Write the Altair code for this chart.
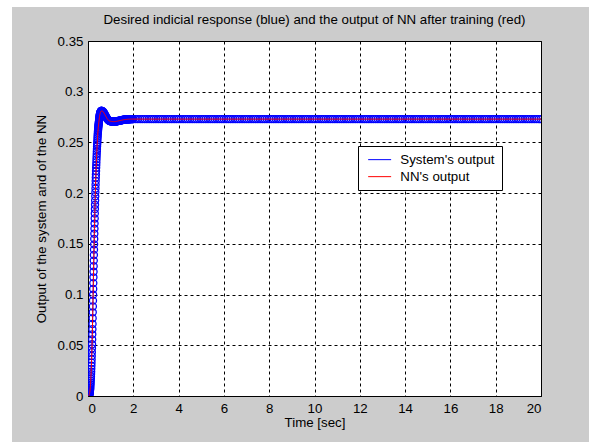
import altair as alt
import numpy as np
import pandas as pd

# ---- data ----
# rise, sampled every 0.005 s from 0 to 0.6 s
rise_values = [
    0.0000, 0.0000, 0.0001, 0.0001, 0.0002, 0.0003, 0.0004, 0.0005, 0.0007, 0.0009,
    0.0011, 0.0014, 0.0018, 0.0022, 0.0027, 0.0033, 0.0040, 0.0049, 0.0058, 0.0068,
    0.0080, 0.0096, 0.0113, 0.0131, 0.0150, 0.0171, 0.0193, 0.0216, 0.0240, 0.0268,
    0.0298, 0.0328, 0.0360, 0.0395, 0.0432, 0.0470, 0.0510, 0.0558, 0.0608, 0.0658,
    0.0710, 0.0767, 0.0825, 0.0883, 0.0940, 0.0998, 0.1055, 0.1113, 0.1170, 0.1225,
    0.1280, 0.1335, 0.1390, 0.1443, 0.1495, 0.1548, 0.1600, 0.1650, 0.1700, 0.1750,
    0.1800, 0.1843, 0.1885, 0.1928, 0.1970, 0.2008, 0.2045, 0.2083, 0.2120, 0.2153,
    0.2185, 0.2218, 0.2250, 0.2278, 0.2305, 0.2333, 0.2360, 0.2385, 0.2410, 0.2435,
    0.2460, 0.2480, 0.2500, 0.2520, 0.2540, 0.2558, 0.2575, 0.2593, 0.2610, 0.2623,
    0.2635, 0.2648, 0.2660, 0.2670, 0.2680, 0.2690, 0.2700, 0.2710, 0.2720, 0.2730,
    0.2740, 0.2748, 0.2755, 0.2763, 0.2770, 0.2775, 0.2780, 0.2785, 0.2790, 0.2793,
    0.2795, 0.2798, 0.2800, 0.2803, 0.2805, 0.2808, 0.2810, 0.2810, 0.2810, 0.2810,
    0.2810,
]
# overshoot and settling, sampled every 0.02 s from 0.62 to 2.0 s
settle_values = [
    0.2810, 0.2808, 0.2805, 0.2800, 0.2792, 0.2785, 0.2776, 0.2768, 0.2760, 0.2752,
    0.2744, 0.2736, 0.2730, 0.2724, 0.2720, 0.2716, 0.2713, 0.2711, 0.2710, 0.2709,
    0.2708, 0.2707, 0.2706, 0.2706, 0.2705, 0.2705, 0.2705, 0.2705, 0.2705, 0.2706,
    0.2706, 0.2707, 0.2708, 0.2709, 0.2710, 0.2711, 0.2712, 0.2713, 0.2714, 0.2715,
    0.2716, 0.2717, 0.2718, 0.2719, 0.2720, 0.2721, 0.2722, 0.2723, 0.2724, 0.2725,
    0.2725, 0.2726, 0.2726, 0.2727, 0.2727, 0.2728, 0.2728, 0.2728, 0.2729, 0.2729,
    0.2729, 0.2729, 0.2730, 0.2730, 0.2730, 0.2730, 0.2730, 0.2730, 0.2730, 0.2730,
]
# steady state, sampled every 0.1 s from 2.1 to 20 s
steady_values = [
    0.273, 0.273, 0.273, 0.273, 0.273, 0.273, 0.273, 0.273, 0.273, 0.273,
    0.273, 0.273, 0.273, 0.273, 0.273, 0.273, 0.273, 0.273, 0.273, 0.273,
    0.273, 0.273, 0.273, 0.273, 0.273, 0.273, 0.273, 0.273, 0.273, 0.273,
    0.273, 0.273, 0.273, 0.273, 0.273, 0.273, 0.273, 0.273, 0.273, 0.273,
    0.273, 0.273, 0.273, 0.273, 0.273, 0.273, 0.273, 0.273, 0.273, 0.273,
    0.273, 0.273, 0.273, 0.273, 0.273, 0.273, 0.273, 0.273, 0.273, 0.273,
    0.273, 0.273, 0.273, 0.273, 0.273, 0.273, 0.273, 0.273, 0.273, 0.273,
    0.273, 0.273, 0.273, 0.273, 0.273, 0.273, 0.273, 0.273, 0.273, 0.273,
    0.273, 0.273, 0.273, 0.273, 0.273, 0.273, 0.273, 0.273, 0.273, 0.273,
    0.273, 0.273, 0.273, 0.273, 0.273, 0.273, 0.273, 0.273, 0.273, 0.273,
    0.273, 0.273, 0.273, 0.273, 0.273, 0.273, 0.273, 0.273, 0.273, 0.273,
    0.273, 0.273, 0.273, 0.273, 0.273, 0.273, 0.273, 0.273, 0.273, 0.273,
    0.273, 0.273, 0.273, 0.273, 0.273, 0.273, 0.273, 0.273, 0.273, 0.273,
    0.273, 0.273, 0.273, 0.273, 0.273, 0.273, 0.273, 0.273, 0.273, 0.273,
    0.273, 0.273, 0.273, 0.273, 0.273, 0.273, 0.273, 0.273, 0.273, 0.273,
    0.273, 0.273, 0.273, 0.273, 0.273, 0.273, 0.273, 0.273, 0.273, 0.273,
    0.273, 0.273, 0.273, 0.273, 0.273, 0.273, 0.273, 0.273, 0.273, 0.273,
    0.273, 0.273, 0.273, 0.273, 0.273, 0.273, 0.273, 0.273, 0.273, 0.273,
]

series_names = ["System's output", "NN's output"]
series_colors = ["#0000ff", "#ff0000"]
x_ticks = [0, 2, 4, 6, 8, 10, 12, 14, 16, 18, 20]
y_ticks = [0, 0.05, 0.1, 0.15, 0.2, 0.25, 0.3, 0.35]

title_text = "Desired indicial response (blue) and the output of NN after training (red)"
x_title = "Time [sec]"
y_title = "Output of the system and of the NN"

# sampling grid
t_rise = np.round(0.005 * np.arange(len(rise_values)), 3)
t_settle = np.round(0.62 + 0.02 * np.arange(len(settle_values)), 3)
t_steady = np.round(2.1 + 0.1 * np.arange(len(steady_values)), 3)
times = np.concatenate([t_rise, t_settle, t_steady])
system_out = rise_values + settle_values + steady_values
nn_out = system_out  # NN reproduces the system output after training

df = pd.concat([
    pd.DataFrame({"time": times, "value": system_out, "series": series_names[0]}),
    pd.DataFrame({"time": times, "value": nn_out, "series": series_names[1]}),
])

FONT = "Liberation Sans"
FS = 13.3
W, H = 453, 355

color = alt.Color(
    "series:N",
    scale=alt.Scale(domain=series_names, range=series_colors),
    sort=series_names,
    legend=alt.Legend(
        title=None, orient="none", legendX=270, legendY=105,
        symbolType="M-2,0H2", symbolSize=132, symbolStrokeWidth=1,
        symbolOffset=8,
        labelFont=FONT, labelFontSize=FS, labelColor="black", labelOffset=14,
        rowPadding=3, padding=7, fillColor="white", strokeColor="black",
    ),
)

xenc = alt.X("time:Q", scale=alt.Scale(domain=[0, 20], nice=False),
             axis=alt.Axis(values=x_ticks, format="d", title=x_title, titlePadding=1))
yenc = alt.Y("value:Q", scale=alt.Scale(domain=[0, 0.35], nice=False),
             axis=alt.Axis(values=y_ticks, format=".2~f", title=y_title, titlePadding=9))

points = alt.Chart(df).transform_filter(
    alt.datum.series == series_names[0]
).mark_point(shape="circle", filled=False, size=50, strokeWidth=1.3,
             opacity=1, clip=True, color=series_colors[0]).encode(
    x=xenc, y=yenc
)

lines = alt.Chart(df).mark_line(strokeWidth=1, clip=True).encode(
    x="time:Q", y="value:Q", color=color,
    order=alt.Order("time:Q"),
)

strip_left = alt.Chart(df).mark_rect(color="white").encode(
    x=alt.value(-88), x2=alt.value(-76), y=alt.value(-41), y2=alt.value(H + 46)
).transform_filter("datum.time == 0 && datum.series == \"System's output\"")
strip_top = alt.Chart(df).mark_rect(color="white").encode(
    x=alt.value(-88), x2=alt.value(W + 48), y=alt.value(-41), y2=alt.value(-34)
).transform_filter("datum.time == 0 && datum.series == \"System's output\"")

chart = alt.layer(strip_left, strip_top, points, lines).properties(
    width=W, height=H,
    title=alt.Title(title_text, font=FONT, fontSize=FS, fontWeight="normal",
                    color="black", offset=-26, anchor="middle"),
    autosize=alt.AutoSizeParams(type="none"),
    padding={"left": 88, "top": 41, "right": 48, "bottom": 46},
    background="#cccccc",
).configure_view(
    fill="white", stroke="black", strokeWidth=1
).configure_axis(
    grid=True, gridDash=[3, 3], gridColor="black", gridOpacity=1, gridWidth=1,
    domain=False, ticks=False,
    labelFont=FONT, labelFontSize=FS, labelColor="black", labelPadding=5,
    titleFont=FONT, titleFontSize=FS, titleFontWeight="normal", titleColor="black",
)

chart.save("out.html", embed_options={"renderer": "svg", "actions": False})
